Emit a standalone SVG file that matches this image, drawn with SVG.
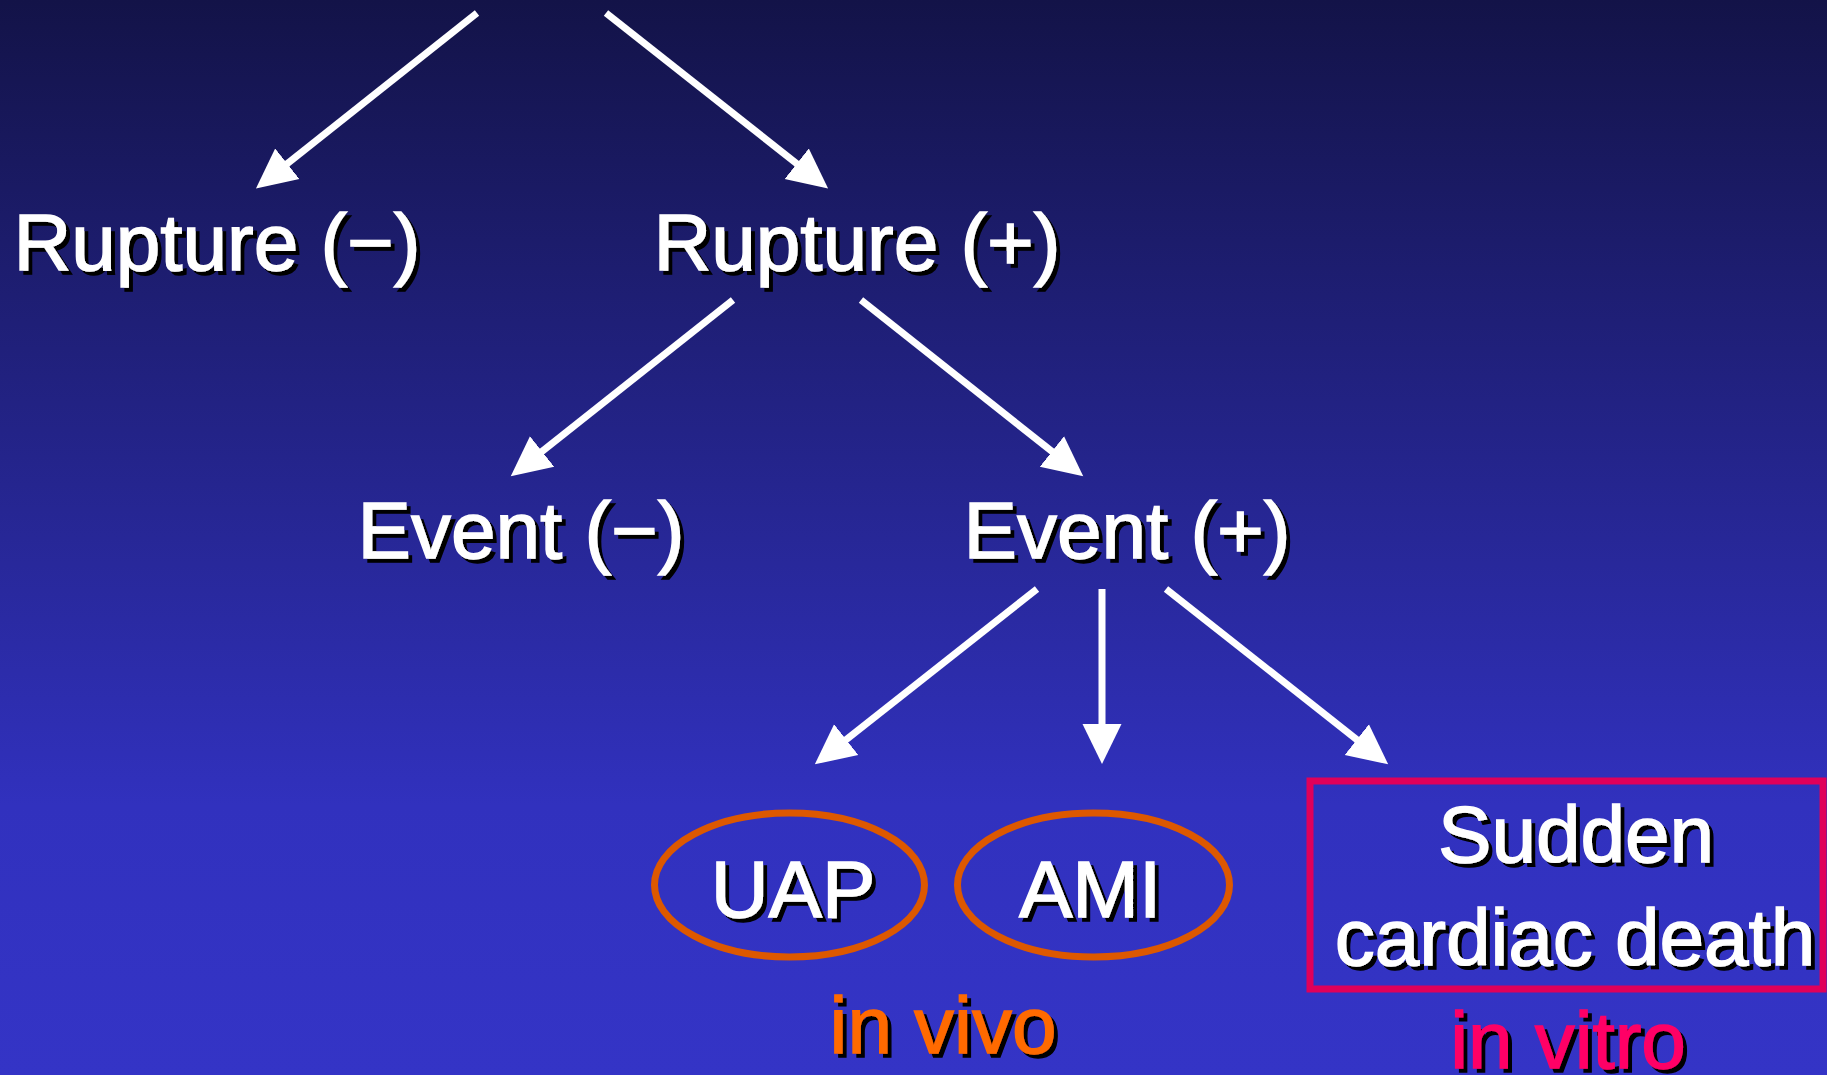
<svg xmlns="http://www.w3.org/2000/svg" width="1827" height="1075" viewBox="0 0 1827 1075">
<style>
.t{font-family:"Liberation Sans",Arial,sans-serif;font-size:80px;fill:#ffffff;stroke:#ffffff;stroke-width:1.4px;text-anchor:middle;filter:url(#sh)}
.c{stroke:#ffffff;stroke-width:7;fill:none;stroke-linecap:butt;marker-end:url(#ah)}
.ov{fill:none;stroke:#DD5800;stroke-width:7}
</style>
<defs>
<linearGradient id="bg" x1="0" y1="0" x2="0" y2="1">
<stop offset="0" stop-color="#131348"/>
<stop offset="0.75" stop-color="#3131BE"/>
<stop offset="1" stop-color="#3434C6"/>
</linearGradient>
<filter id="sh" x="-10%" y="-20%" width="130%" height="150%">
<feDropShadow dx="4" dy="4" stdDeviation="0" flood-color="#000000" flood-opacity="1"/>
</filter>
<marker id="ah" markerUnits="userSpaceOnUse" markerWidth="44" markerHeight="42" viewBox="0 -21 44 42" refX="1" refY="0" orient="auto">
<path d="M0,-19.5 L40,0 L0,19.5 z" fill="#ffffff"/>
</marker>
</defs>
<rect width="1827" height="1075" fill="url(#bg)"/>
<g id="connectors">
<line class="c" x1="477" y1="13" x2="286.5" y2="164.3"/>
<line class="c" x1="606" y1="13" x2="797.5" y2="164.3"/>
<line class="c" x1="733" y1="300" x2="541.3" y2="452.1"/>
<line class="c" x1="861" y1="300" x2="1052.7" y2="452.1"/>
<line class="c" x1="1037" y1="589" x2="845.4" y2="740.2"/>
<line class="c" x1="1102" y1="589" x2="1102" y2="725"/>
<line class="c" x1="1166" y1="589" x2="1357.6" y2="740.2"/>
</g>
<g id="rupture-neg"><text class="t" x="217" y="270">Rupture (−)</text></g>
<g id="rupture-pos"><text class="t" x="857" y="270">Rupture (+)</text></g>
<g id="event-neg"><text class="t" x="521" y="558">Event (−)</text></g>
<g id="event-pos"><text class="t" x="1127" y="558">Event (+)</text></g>
<g id="uap"><ellipse class="ov" cx="789.5" cy="885" rx="135" ry="72"/><text class="t" x="793" y="917">UAP</text></g>
<g id="ami"><ellipse class="ov" cx="1093.5" cy="885" rx="136" ry="72"/><text class="t" x="1090" y="917">AMI</text></g>
<g id="scd"><rect x="1310" y="781" width="513" height="208" fill="none" stroke="#E0005A" stroke-width="7"/><text class="t" x="1576" y="862">Sudden</text><text class="t" x="1575" y="965">cardiac death</text></g>
<g id="in-vivo"><text class="t" x="943" y="1053" style="fill:#FF6A00;stroke:#FF6A00">in vivo</text></g>
<g id="in-vitro"><text class="t" x="1568" y="1068" style="fill:#FF0066;stroke:#FF0066">in vitro</text></g>
</svg>
